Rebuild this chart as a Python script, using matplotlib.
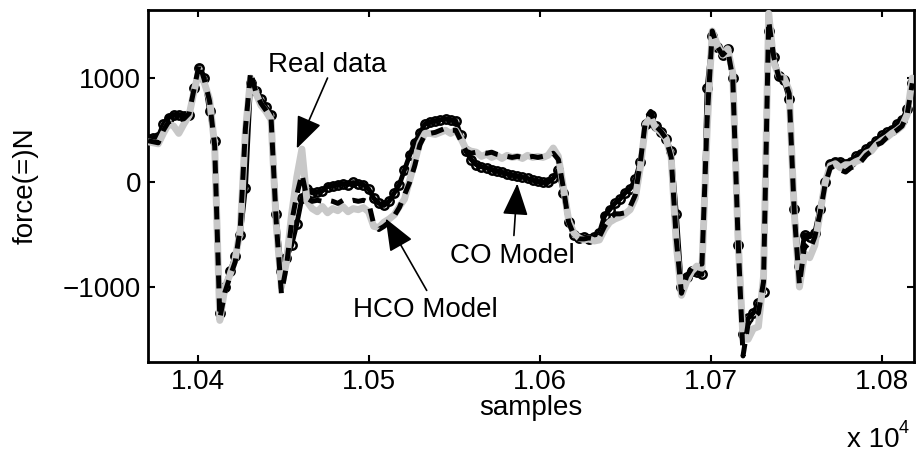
import numpy as np
import matplotlib
matplotlib.use("Agg")
import matplotlib.pyplot as plt

plt.rcParams['font.family'] = ['Liberation Sans', 'DejaVu Sans']

# --- DATA (one value every 3 samples) ---
samples = np.arange(10371, 10819, 3)

real_data = [
    390, 380, 370, 470, 560, 540, 470, 560, 640, 880,
    1080, 950, 800, 350, -1320, -1000, -880, -730, -450, 500,
    1000, 860, 740, 680, 600, -400, -1000, -760, -300, 50,
    320, -180, -250, -280, -230, -290, -250, -270, -230, -280,
    -250, -260, -240, -280, -420, -430, -380, -350, -310, -230,
    -160, 20, 200, 380, 470, 470, 460, 480, 500, 470,
    500, 420, 320, 300, 290, 250, 270, 240, 260, 230,
    260, 240, 250, 230, 260, 240, 250, 240, 260, 330,
    250, -50, -360, -480, -530, -550, -540, -560, -550, -450,
    -380, -350, -330, -300, -260, -150, 150, 560, 620, 520,
    480, 420, 240, -600, -1080, -950, -850, -800, -820, 500,
    1450, 1320, 1220, 1280, 1050, -500, -1500, -1500, -1400, -1380,
    -900, 1620, 1150, 1020, 1000, 880, -300, -1000, -680, -720,
    -600, -300, 0, 160, 180, 140, 170, 170, 200, 220,
    280, 300, 360, 400, 430, 470, 500, 540, 650, 1000,
]

hco_model = [
    400, 390, 380, 500, 580, 600, 600, 610, 660, 900,
    1140, 980, 780, 350, -1300, -1050, -900, -760, -430, 520,
    1060, 870, 760, 690, 610, -380, -1060, -800, -380, -120,
    80, -150, -180, -170, -180, -170, -180, -200, -170, -180,
    -170, -180, -170, -190, -400, -450, -420, -380, -320, -240,
    -120, 0, 160, 360, 460, 470, 480, 500, 520, 500,
    500, 400, 300, 280, 290, 290, 280, 290, 270, 260,
    250, 240, 250, 240, 240, 250, 240, 250, 260, 280,
    220, -60, -380, -500, -540, -540, -530, -540, -520, -420,
    -350, -300, -300, -290, -230, -120, 200, 600, 680, 540,
    490, 420, 240, -550, -1060, -900, -820, -780, -780, 600,
    1450, 1300, 1220, 1270, 1000, -500, -1660, -1350, -1300, -1250,
    -950, 1550, 1200, 1000, 1000, 850, -300, -980, -600, -650,
    -520, -300, -20, 140, 160, 120, 100, 140, 160, 200,
    260, 300, 360, 380, 430, 470, 500, 540, 650, 950,
]

co_model = [
    420, 430, 440, 560, 620, 650, 650, 640, 650, 900,
    1100, 1000, 680, 400, -1250, -1000, -850, -700, -500, -50,
    950, 880, 800, 720, 650, -300, -850, -720, -600, -400,
    -150, -60, -100, -90, -80, -40, -30, -20, -10, -20,
    0, -10, -20, -60, -150, -200, -220, -180, -100, -20,
    120, 260, 380, 470, 560, 580, 590, 600, 610, 600,
    590, 450, 300, 220, 170, 150, 140, 120, 110, 100,
    80, 70, 60, 50, 40, 20, 10, 0, 0, 40,
    120, -100, -380, -500, -530, -520, -540, -520, -480, -320,
    -260, -200, -160, -100, -60, 30, 200, 560, 650, 540,
    480, 420, 300, -300, -1000, -900, -850, -860, -880, 900,
    1400, 1300, 1220, 1280, 1000, -600, -1450, -1300, -1250, -1150,
    -1050, 1450, 1200, 1020, 980, 800, -250, -800, -500, -520,
    -480, -250, 0, 180, 200, 200, 180, 200, 250, 270,
    320, 350, 400, 450, 480, 500, 560, 600, 700, 950,
]

xtick_pos = [10400, 10500, 10600, 10700, 10800]
xtick_labels = ['1.04', '1.05', '1.06', '1.07', '1.08']
ytick_pos = [-1000, 0, 1000]
ytick_labels = ['\u22121000', '0', '1000']

# --- FIGURE ---
fig = plt.figure(figsize=(9.19, 4.55), dpi=100)
ax = fig.add_axes([148 / 919, 93 / 455, 766 / 919, 352 / 455])

# CO model underneath: dense hollow circles make a thick black band
ax.plot(samples, co_model, color='k', lw=3.5, marker='o', ms=6, mfc='none',
        mec='k', mew=1.8, zorder=2)
ax.plot(samples, real_data, color='#c8c8c8', lw=5, solid_capstyle='round', zorder=3)
ax.plot(samples, hco_model, color='k', lw=3.6, dashes=(2.6, 2.0), zorder=4)

ax.set_xlim(10371, 10819)
ax.set_ylim(-1718, 1651)
ax.set_xticks(xtick_pos)
ax.set_xticklabels(xtick_labels)
ax.set_yticks(ytick_pos)
ax.set_yticklabels(ytick_labels)

ax.tick_params(direction='in', length=5, width=1.5, labelsize=20, pad=5,
               top=True, right=True)
for s in ax.spines.values():
    s.set_linewidth(2)

ax.set_xlabel('samples', fontsize=20)
ax.xaxis.set_label_coords(0.5, -0.095)
ax.xaxis.label.set_va('top')
ax.set_ylabel('force(=)N', fontsize=20)
ax.yaxis.set_label_coords(-0.143, 0.5)

# offset text like MATLAB's
fig.text(847 / 919, 8 / 455, 'x 10', fontsize=20, ha='left', va='baseline')
fig.text(899 / 919, 22 / 455, '4', fontsize=13, ha='left', va='baseline')

# --- ANNOTATIONS ---
arrow = dict(arrowstyle='-|>,head_length=1.0,head_width=0.4', color='k', lw=1.2,
             mutation_scale=20, shrinkA=0, shrinkB=0)
ax.annotate('', xy=(10458, 325), xytext=(10476, 1000), arrowprops=arrow, zorder=6)
ax.text(10476, 1053, 'Real data', fontsize=20, ha='center', va='baseline')

ax.annotate('', xy=(10510, -345), xytext=(10534, -1033), arrowprops=arrow, zorder=6)
ax.text(10533, -1292, 'HCO Model', fontsize=20, ha='center', va='baseline')

ax.annotate('', xy=(10587, -10), xytext=(10585, -507), arrowprops=arrow, zorder=6)
ax.text(10584, -766, 'CO Model', fontsize=20, ha='center', va='baseline')

fig.savefig('out.png', dpi=100)
